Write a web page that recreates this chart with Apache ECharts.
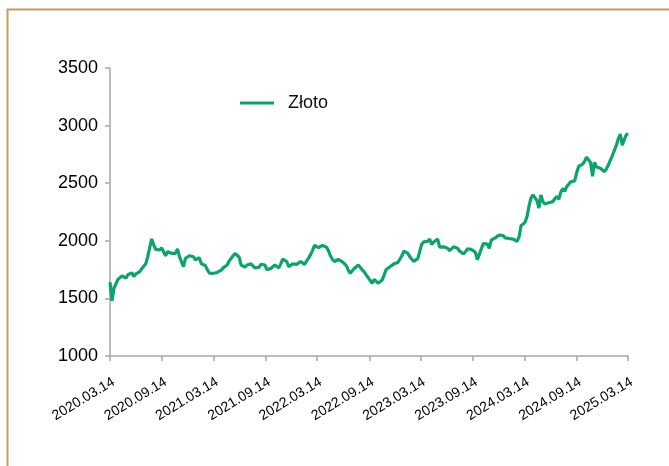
<!DOCTYPE html>
<html>
<head>
<meta charset="utf-8">
<script src="https://cdn.jsdelivr.net/npm/echarts@6/dist/echarts.min.js"></script>
<style>
html,body{margin:0;padding:0;background:#fff;}
#c{width:669px;height:466px;}
</style>
</head>
<body>
<div id="c"></div>
<script>
// Tick labels on the x axis (dates)
const tickLabels = ['2020.03.14','2020.09.14','2021.03.14','2021.09.14','2022.03.14','2022.09.14','2023.03.14','2023.09.14','2024.03.14','2024.09.14','2025.03.14'];
const seriesName = 'Złoto';
const startDate = '2020.03.14';
const endDate = '2025.03.14';
// Weekly values (from 2020.03.14, weekly, last one at 2025.03.14)
const goldValues = [
1640,1478,1588,1600,1665,1680,1695,1703,1676,1705,
1718,1722,1690,1712,1720,1732,1758,1775,1800,1862,
1940,2016,1965,1925,1935,1920,1938,1929,1870,1905,
1900,1891,1900,1890,1929,1862,1850,1775,1848,1860,
1870,1875,1862,1835,1845,1853,1800,1795,1785,1750,
1720,1703,1718,1712,1725,1735,1745,1765,1755,1790,
1825,1840,1870,1890,1880,1860,1790,1778,1772,1790,
1806,1800,1785,1765,1778,1770,1795,1812,1790,1750,
1738,1760,1775,1790,1800,1765,1800,1840,1855,1820,
1775,1790,1800,1805,1795,1805,1820,1830,1795,1825,
1850,1880,1915,1960,1975,1940,1945,1960,1955,1945,
1915,1870,1840,1820,1830,1838,1830,1818,1805,1785,
1745,1718,1740,1760,1775,1790,1770,1748,1730,1705,
1680,1665,1632,1665,1650,1632,1645,1658,1700,1748,
1760,1775,1785,1800,1805,1812,1825,1870,1910,1920,
1890,1862,1840,1822,1830,1845,1860,1972,1990,2005,
1995,2015,1968,1990,2005,2015,1945,1950,1948,1945,
1935,1915,1930,1948,1945,1935,1912,1900,1885,1905,
1930,1935,1925,1910,1900,1835,1820,1930,1975,1980,
1972,1935,2005,2010,2025,2030,2050,2060,2045,2025,
2020,2020,2025,2015,2010,1995,2035,2130,2145,2160,
2210,2300,2370,2398,2375,2350,2285,2398,2340,2320,
2315,2330,2325,2340,2365,2385,2360,2420,2455,2430,
2470,2490,2512,2510,2520,2590,2645,2640,2665,2690,
2725,2733,2680,2560,2682,2640,2645,2630,2615,2600,
2625,2660,2700,2740,2785,2830,2885,2925,2830,2880,
2920,2930
];

function parseD(s){const p=s.split('.').map(Number);return Date.UTC(p[0],p[1]-1,p[2]);}
const DAY = 86400000;
const t0 = parseD(startDate), t1 = parseD(endDate);
const spanDays = (t1 - t0)/DAY;
const tickDays = tickLabels.map(s => (parseD(s) - t0)/DAY);
const dayOffsets = goldValues.map((v,i)=> i < goldValues.length-1 ? i*7 : spanDays);
const seriesData = goldValues.map((v,i)=>[dayOffsets[i], v]);

const chart = echarts.init(document.getElementById('c'), null, {renderer:'canvas'});
const green = '#0aa56c';
chart.setOption({
  animation:false,
  backgroundColor:'#ffffff',
  graphic:[{type:'rect', shape:{x:7.5,y:9.5,width:700,height:500}, style:{fill:'none', stroke:'#c9995f', lineWidth:2}, silent:true, z:-1}],
  grid:{left:110, right:41, top:68, bottom:110, containLabel:false},
  legend:{
    show:true, left:240, top:94, padding:0, itemWidth:34, itemHeight:14,
    data:[{name:seriesName, icon:'path://M0,0 L34,0 L34,3 L0,3 Z'}],
    itemStyle:{color:green},
    textStyle:{fontFamily:'Liberation Sans', fontSize:18, color:'#111', padding:[0,0,0,9]}
  },
  xAxis:{
    type:'value', min:0, max:spanDays,
    axisLine:{show:true, lineStyle:{color:'#a6a6a6', width:1.5}},
    axisTick:{show:true, length:5, lineStyle:{color:'#a6a6a6', width:1.5}, customValues:tickDays},
    splitLine:{show:false},
    axisLabel:{
      customValues:tickDays, rotate:31, margin:19, hideOverlap:false, verticalAlign:'top',
      showMinLabel:true, showMaxLabel:true,
      fontFamily:'Liberation Sans', fontSize:14, color:'#000',
      formatter:function(v){let best=0,bd=Infinity;tickDays.forEach((t,i)=>{const d=Math.abs(t-v);if(d<bd){bd=d;best=i;}});return tickLabels[best];}
    }
  },
  yAxis:{
    type:'value', min:1000, max:3500, interval:500,
    axisLine:{show:true, lineStyle:{color:'#a6a6a6', width:1.5}},
    axisTick:{show:true, length:5, lineStyle:{color:'#a6a6a6', width:1.5}},
    splitLine:{show:false},
    axisLabel:{fontFamily:'Liberation Sans', fontSize:18, color:'#000', margin:12, formatter:function(v){return String(v);}}
  },
  series:[{
    name:seriesName, type:'line', data:seriesData, showSymbol:false, symbol:'none',
    lineStyle:{color:green, width:3.2}, itemStyle:{color:green}
  }]
});
</script>
</body>
</html>
